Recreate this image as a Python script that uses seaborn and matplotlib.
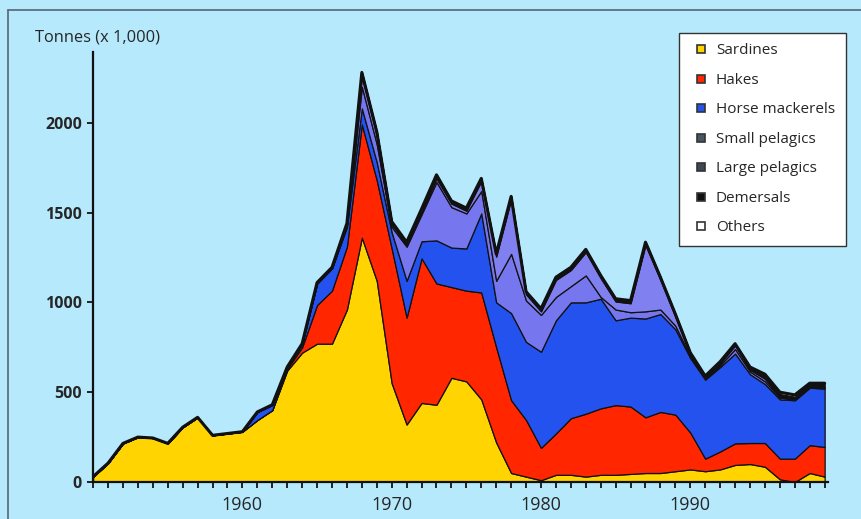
import matplotlib
matplotlib.use("Agg")
import matplotlib.pyplot as plt
from matplotlib.lines import Line2D
import numpy as np
import pandas as pd
import seaborn as sns

# Catches by group, thousand tonnes, 1950-1999
years = list(range(1950, 2000))
sardines = [30, 105, 215, 250, 245, 215, 305, 360, 260, 270,
            280, 345, 400, 620, 720, 770, 770, 960, 1360, 1120,
            550, 320, 440, 430, 580, 560, 460, 220, 50, 30,
            10, 40, 40, 30, 40, 40, 45, 50, 50, 60,
            70, 60, 70, 95, 100, 85, 15, 0, 50, 30]
hakes = [0, 0, 0, 0, 0, 0, 0, 0, 0, 0,
         0, 0, 0, 10, 30, 215, 295, 350, 630, 560,
         750, 595, 805, 675, 505, 505, 595, 530, 405, 315,
         180, 230, 315, 350, 370, 388, 375, 310, 340, 315,
         205, 70, 100, 120, 117, 132, 115, 130, 155, 165]
horse_mackerels = [0, 0, 0, 0, 0, 0, 0, 0, 0, 0,
                   0, 45, 30, 10, 20, 120, 125, 110, 90, 100,
                   90, 205, 95, 240, 220, 235, 440, 250, 485, 435,
                   535, 630, 645, 620, 610, 472, 495, 550, 545, 475,
                   415, 440, 470, 500, 383, 328, 330, 325, 320, 325]
small_pelagics = [0, 0, 0, 0, 0, 0, 0, 0, 0, 0,
                  0, 0, 0, 0, 0, 0, 0, 10, 120, 100,
                  30, 190, 150, 325, 225, 195, 125, 120, 330, 230,
                  205, 130, 90, 150, 10, 60, 30, 40, 25, 20,
                  10, 5, 10, 25, 15, 15, 10, 5, 5, 5]
large_pelagics = [0, 0, 0, 0, 0, 0, 0, 0, 0, 0,
                  0, 0, 0, 0, 0, 0, 0, 0, 60, 50,
                  15, 10, 15, 20, 20, 15, 55, 135, 305, 35,
                  20, 95, 90, 130, 105, 45, 50, 370, 165, 50,
                  10, 5, 10, 20, 10, 15, 5, 0, 0, 5]
demersals = [0, 0, 0, 0, 0, 0, 0, 0, 0, 0,
             0, 0, 0, 0, 0, 5, 5, 10, 20, 20,
             15, 15, 15, 20, 15, 15, 15, 15, 15, 15,
             15, 15, 15, 15, 15, 15, 15, 15, 15, 15,
             10, 10, 10, 10, 15, 20, 15, 15, 20, 20]
others = [0, 0, 0, 0, 0, 0, 0, 0, 0, 0,
          0, 0, 0, 0, 0, 0, 0, 0, 0, 0,
          0, 0, 0, 0, 0, 0, 0, 0, 0, 0,
          0, 0, 0, 0, 0, 0, 0, 0, 0, 0,
          0, 0, 0, 0, 0, 5, 10, 10, 0, 0]

labels = ["Sardines", "Hakes", "Horse mackerels", "Small pelagics",
          "Large pelagics", "Demersals", "Others"]
colors = ["#FFD400", "#FF2600", "#2352EE", "#7676EE", "#8080F0", "#111111", "#FFFFFF"]
legend_colors = ["#FFD400", "#FF2600", "#2352EE", "#4A5562", "#3E4852", "#111111", "#FFFFFF"]

df = pd.DataFrame({"Year": years, "Sardines": sardines, "Hakes": hakes,
                   "Horse mackerels": horse_mackerels, "Small pelagics": small_pelagics,
                   "Large pelagics": large_pelagics, "Demersals": demersals,
                   "Others": others})
df["Total"] = df[labels].sum(axis=1)

bg = "#B5E9FB"
sns.set_style("ticks")
plt.rcParams["font.family"] = ["Open Sans", "DejaVu Sans"]

fig = plt.figure(figsize=(8.62, 5.19), dpi=100, facecolor=bg)
ax = fig.add_axes([0.108, 0.0713, 0.853, 0.829])
ax.set_facecolor(bg)

ax.stackplot(df["Year"], [df[c] for c in labels], colors=colors,
             edgecolor="#111111", linewidth=0.9)
sns.lineplot(data=df, x="Year", y="Total", color="#111111", linewidth=2.2, ax=ax)

ax.set_xlim(1950, 1999.25)
ax.set_ylim(0, 2395)
ax.set_xticks([1960, 1970, 1980, 1990])
ax.set_xticks(years, minor=True)
ax.set_yticks([0, 500, 1000, 1500, 2000])
ax.tick_params(axis="x", which="both", length=4, width=1.4, color="#222222", pad=6)
ax.tick_params(axis="y", length=4, width=1.4, color="#222222", pad=4)
for t in ax.get_xticklabels():
    t.set_family(["Liberation Sans Narrow", "Open Sans", "DejaVu Sans"])
    t.set_fontsize(13)
for t in ax.get_yticklabels():
    t.set_fontweight("bold")
    t.set_fontsize(11.5)
ax.set_xlabel("")
ax.set_ylabel("")
sns.despine(ax=ax)
for s in ["left", "bottom"]:
    ax.spines[s].set_linewidth(1.6)
    ax.spines[s].set_color("#111111")

fig.text(0.041, 0.927, "Tonnes (x 1,000)", fontsize=11.8, va="center", ha="left")

handles = [Line2D([0], [0], marker="s", linestyle="none", markersize=6,
                  markerfacecolor=c, markeredgecolor="#333333", markeredgewidth=1.2)
           for c in legend_colors]
leg = ax.legend(handles, labels, loc="upper right", bbox_to_anchor=(0.981, 0.937),
                bbox_transform=fig.transFigure, fontsize=11, frameon=True,
                fancybox=False, labelspacing=0.95, handletextpad=0.3,
                handlelength=1.4, borderpad=0.7, borderaxespad=0)
leg.get_frame().set_edgecolor("#333333")
leg.get_frame().set_linewidth(1.0)
leg.get_frame().set_facecolor("white")
leg.get_frame().set_alpha(1)

# thin frame at the top-left like the source graphic
fig.add_artist(Line2D([0.0093, 0.0093], [0, 0.981], transform=fig.transFigure,
                      color="#556677", linewidth=1.2))
fig.add_artist(Line2D([0.0093, 1.0], [0.981, 0.981], transform=fig.transFigure,
                      color="#556677", linewidth=1.2))

fig.savefig("out.png", dpi=100, facecolor=bg)
